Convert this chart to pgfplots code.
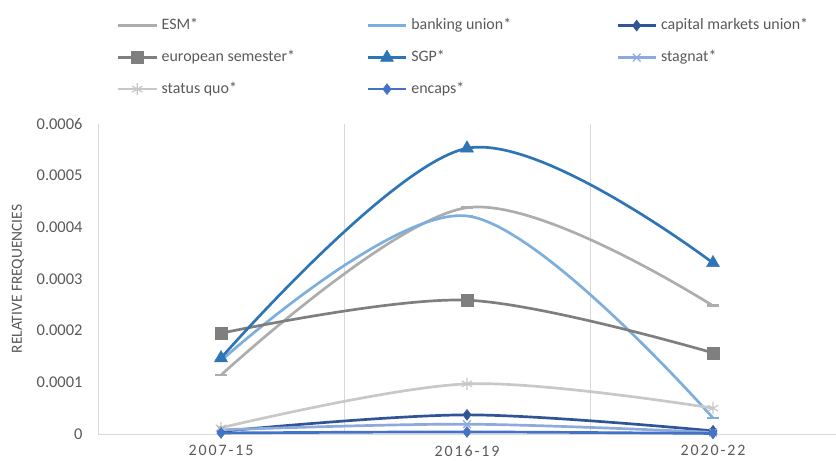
\documentclass[border=0pt]{standalone}
\usepackage{fontspec}
\setmainfont{Carlito}
\newfontfamily\spaced[LetterSpace=12]{Carlito}
\usepackage{pgfplots}
\pgfplotsset{compat=1.18}
\definecolor{txt}{HTML}{595959}
\definecolor{grd}{HTML}{D9D9D9}
\definecolor{cESM}{HTML}{ADADAD}
\definecolor{cBU}{HTML}{7CAFDD}
\definecolor{cCMU}{HTML}{2F5597}
\definecolor{cES}{HTML}{7F7F7F}
\definecolor{cSGP}{HTML}{2E75B6}
\definecolor{cST}{HTML}{8EA9DB}
\definecolor{cSQ}{HTML}{C8C8C8}
\definecolor{cEN}{HTML}{4472C4}
\newcommand{\lb}[1]{\makebox[205bp][l]{#1}}
\begin{document}
\fontsize{16}{19}\selectfont
\begin{tikzpicture}
\path[use as bounding box] (-98bp,-27bp) rectangle (738bp,434bp);
\begin{axis}[
  at={(0,0)}, anchor=south west,
  scale only axis, width=738bp, height=310bp,
  xmin=-0.5, xmax=2.5, ymin=0, ymax=0.0006,
  axis lines*=left,
  axis line style={grd, line width=0.8pt},
  x axis line style={-}, y axis line style={-},
  xtick={0,1,2}, xticklabels={2007-15,2016-19,2020-22},
  xticklabel style={font=\spaced\fontsize{16}{19}\selectfont, text=txt, text depth=0pt},
  xtick style={draw=none},
  extra x ticks={0.5,1.5}, extra x tick labels={},
  extra x tick style={grid=major, major grid style={grd, line width=0.8pt}, tick style={draw=none}},
  ytick={0,0.0001,0.0002,0.0003,0.0004,0.0005,0.0006},
  yticklabels={0,0.0001,0.0002,0.0003,0.0004,0.0005,0.0006},
  scaled y ticks=false,
  ytick style={draw=none},
  yticklabel style={text=txt, font=\fontsize{16.5}{19}\selectfont},
  /pgf/number format/assume math mode=true,
  xticklabel shift=6bp, yticklabel shift=10bp,
  ylabel={RELATIVE FREQUENCIES},
  ylabel style={text=txt, font=\fontsize{15.5}{19}\selectfont, at={(rel axis cs:0,0.5)}, anchor=center, yshift=80bp},
  clip=false,
  every axis plot/.append style={line width=2.7pt, smooth, tension=0.55},
  legend columns=3,
  legend cell align=left,
  legend style={draw=none, fill=none, inner sep=0pt, outer sep=0pt,
    at={(rel axis cs:0.0257,1.34)}, anchor=north west,
    font=\fontsize{16}{19}\selectfont, text=txt,
    nodes={inner sep=0pt, text height=11bp, text depth=3bp},
    row sep=17.5bp,
    /tikz/every odd column/.append style={column sep=4bp}},
  legend image code/.code={\draw[mark repeat=2,mark phase=2,#1] plot coordinates {(0bp,0bp)(19bp,0bp)(38bp,0bp)};},
]
\addplot[cESM, mark=-, mark size=6bp, mark options={line width=2.8pt}] coordinates {(0,0.000114) (1,0.000438) (2,0.000248)};
\addlegendentry{\lb{ESM*}}
\addplot[cBU, mark=-, mark size=6bp, mark options={line width=2.8pt}] coordinates {(0,0.000142) (1,0.000422) (2,0.000031)};
\addlegendentry{\lb{banking union*}}
\addplot[cCMU, mark=diamond*, mark size=5.5bp, mark options={solid, line width=0.5pt}] coordinates {(0,0.000005) (1,0.000037) (2,0.000006)};
\addlegendentry{capital markets union*}
\addplot[cES, mark=square*, mark size=6bp, mark options={line width=0.5pt}] coordinates {(0,0.000195) (1,0.000259) (2,0.000157)};
\addlegendentry{\lb{european semester*}}
\addplot[cSGP, mark=triangle*, mark size=7.5bp, mark options={line width=0.5pt}] coordinates {(0,0.000147) (1,0.000553) (2,0.000331)};
\addlegendentry{\lb{SGP*}}
\addplot[cST, mark=x, mark size=5.5bp, mark options={line width=1.2pt}] coordinates {(0,0.000008) (1,0.000019) (2,0.000003)};
\addlegendentry{stagnat*}
\addplot[cSQ, mark=asterisk, mark size=6bp, mark options={line width=1.2pt}] coordinates {(0,0.000012) (1,0.000097) (2,0.000050)};
\addlegendentry{\lb{status quo*}}
\addplot[cEN, mark=diamond*, mark size=5.5bp, mark options={line width=0.5pt}] coordinates {(0,0.000002) (1,0.000004) (2,0.000001)};
\addlegendentry{\lb{encaps*}}
\end{axis}
\end{tikzpicture}
\end{document}
